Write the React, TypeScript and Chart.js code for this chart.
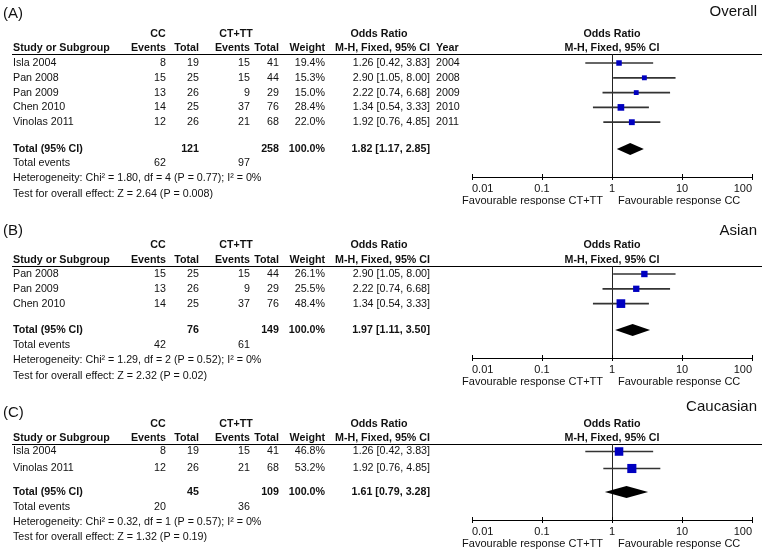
import React, { useEffect, useRef } from "react";
import { Chart, registerables } from "chart.js";

Chart.register(...registerables);

// ---------- data ----------
const TICK_VALUES = [0.01, 0.1, 1, 10, 100];
const TICK_LABELS = ["0.01", "0.1", "1", "10", "100"];
const LEFT_FAVOUR = "Favourable response CT+TT";
const RIGHT_FAVOUR = "Favourable response CC";

// (A) Overall
const A_STUDIES = ["Isla 2004", "Pan 2008", "Pan 2009", "Chen 2010", "Vinolas 2011"];
const A_CC_EVENTS = [8, 15, 13, 14, 12];
const A_CC_TOTAL = [19, 25, 26, 25, 26];
const A_CT_EVENTS = [15, 15, 9, 37, 21];
const A_CT_TOTAL = [41, 44, 29, 76, 68];
const A_WEIGHT = [19.4, 15.3, 15.0, 28.4, 22.0];
const A_OR = [1.26, 2.9, 2.22, 1.34, 1.92];
const A_LO = [0.42, 1.05, 0.74, 0.54, 0.76];
const A_HI = [3.83, 8.0, 6.68, 3.33, 4.85];
const A_YEAR = ["2004", "2008", "2009", "2010", "2011"];
const A_TOTALS = [121, 258];
const A_TOTAL_EVENTS = [62, 97];
const A_POOLED = [1.82, 1.17, 2.85];
const A_HET = "Heterogeneity: Chi² = 1.80, df = 4 (P = 0.77); I² = 0%";
const A_TEST = "Test for overall effect: Z = 2.64 (P = 0.008)";

// (B) Asian
const B_STUDIES = ["Pan 2008", "Pan 2009", "Chen 2010"];
const B_CC_EVENTS = [15, 13, 14];
const B_CC_TOTAL = [25, 26, 25];
const B_CT_EVENTS = [15, 9, 37];
const B_CT_TOTAL = [44, 29, 76];
const B_WEIGHT = [26.1, 25.5, 48.4];
const B_OR = [2.9, 2.22, 1.34];
const B_LO = [1.05, 0.74, 0.54];
const B_HI = [8.0, 6.68, 3.33];
const B_TOTALS = [76, 149];
const B_TOTAL_EVENTS = [42, 61];
const B_POOLED = [1.97, 1.11, 3.5];
const B_HET = "Heterogeneity: Chi² = 1.29, df = 2 (P = 0.52); I² = 0%";
const B_TEST = "Test for overall effect: Z = 2.32 (P = 0.02)";

// (C) Caucasian
const C_STUDIES = ["Isla 2004", "Vinolas 2011"];
const C_CC_EVENTS = [8, 12];
const C_CC_TOTAL = [19, 26];
const C_CT_EVENTS = [15, 21];
const C_CT_TOTAL = [41, 68];
const C_WEIGHT = [46.8, 53.2];
const C_OR = [1.26, 1.92];
const C_LO = [0.42, 0.76];
const C_HI = [3.83, 4.85];
const C_TOTALS = [45, 109];
const C_TOTAL_EVENTS = [20, 36];
const C_POOLED = [1.61, 0.79, 3.28];
const C_HET = "Heterogeneity: Chi² = 0.32, df = 1 (P = 0.57); I² = 0%";
const C_TEST = "Test for overall effect: Z = 1.32 (P = 0.19)";

// ---------- layout / style ----------
const FONT = '"Liberation Sans", Arial, Helvetica, sans-serif';
const BLUE = "#0000c0";
const INK = "#111";
const AXIS_H = 20;
const SQ_K = 1.25;
const FS = 10.7;

const COL = {
  name: 13,
  ccEv: 166,
  ccTot: 199,
  ctEv: 250,
  ctTot: 279,
  weight: 325,
  ci: 430,
  year: 436,
  ccHead: 158,
  ctHead: 236,
  orHead: 379,
};

const PANELS = [
  {
    key: "A", label: "(A)", title: "Overall",
    studies: A_STUDIES, ccEv: A_CC_EVENTS, ccTot: A_CC_TOTAL, ctEv: A_CT_EVENTS, ctTot: A_CT_TOTAL,
    weight: A_WEIGHT, or: A_OR, lo: A_LO, hi: A_HI, year: A_YEAR,
    totals: A_TOTALS, totalEvents: A_TOTAL_EVENTS, pooled: A_POOLED, het: A_HET, test: A_TEST,
    layout: { top: 0, height: 205, labelY: 14, titleY: 12, groupY: 34, headY: 48.5, line: 54, row0: 63, rowH: 14.8, total: 149, events: 163.5, hetY: 178.5, testY: 194, axis: 177 },
  },
  {
    key: "B", label: "(B)", title: "Asian",
    studies: B_STUDIES, ccEv: B_CC_EVENTS, ccTot: B_CC_TOTAL, ctEv: B_CT_EVENTS, ctTot: B_CT_TOTAL,
    weight: B_WEIGHT, or: B_OR, lo: B_LO, hi: B_HI, year: null,
    totals: B_TOTALS, totalEvents: B_TOTAL_EVENTS, pooled: B_POOLED, het: B_HET, test: B_TEST,
    layout: { top: 205, height: 185, labelY: 231, titleY: 231, groupY: 245, headY: 260, line: 266, row0: 274, rowH: 14.8, total: 330, events: 345, hetY: 360, testY: 376, axis: 358 },
  },
  {
    key: "C", label: "(C)", title: "Caucasian",
    studies: C_STUDIES, ccEv: C_CC_EVENTS, ccTot: C_CC_TOTAL, ctEv: C_CT_EVENTS, ctTot: C_CT_TOTAL,
    weight: C_WEIGHT, or: C_OR, lo: C_LO, hi: C_HI, year: null,
    totals: C_TOTALS, totalEvents: C_TOTAL_EVENTS, pooled: C_POOLED, het: C_HET, test: C_TEST,
    layout: { top: 390, height: 163, labelY: 413, titleY: 407, groupY: 424, headY: 438, line: 444, row0: 451.5, rowH: 17, total: 492, events: 507, hetY: 522, testY: 537, axis: 520 },
  },
];

const fmtCI = (o: number, l: number, h: number) =>
  `${o.toFixed(2)} [${l.toFixed(2)}, ${h.toFixed(2)}]`;

function txt(ctx: CanvasRenderingContext2D, s: string, x: number, y: number, align: CanvasTextAlign, bold = false, size = FS) {
  ctx.font = `${bold ? "bold " : ""}${size}px ${FONT}`;
  ctx.textAlign = align;
  ctx.textBaseline = "middle";
  ctx.fillStyle = INK;
  ctx.fillText(s, x, y);
}

function Panel({ p }: { p: any }) {
  const ref = useRef<HTMLCanvasElement>(null);
  useEffect(() => {
    const L = p.layout;
    const first = L.row0 - L.line;
    const yMin = -first / L.rowH;
    const yMax = (L.axis - L.line - first) / L.rowH;
    const totalIdx = (L.total - L.row0) / L.rowH;
    const ciData = p.or.map((_: number, i: number) => ({ x: [p.lo[i], p.hi[i]], y: i }));
    const ptData = p.or.map((v: number, i: number) => ({ x: v, y: i }));
    const radii = p.weight.map((w: number) => (SQ_K * Math.sqrt(w)) / Math.SQRT2);
    const T = (pageY: number) => pageY - L.top;

    const forest = {
      id: "forest" + p.key,
      beforeDatasetsDraw(chart: any) {
        const { ctx, chartArea: ca, scales } = chart;
        const x = scales.x, y = scales.y;
        ctx.save();
        ctx.strokeStyle = "#000";
        ctx.lineWidth = 1;
        // header rule
        const hy = Math.round(ca.top) + 0.5;
        ctx.beginPath();
        ctx.moveTo(12, hy);
        ctx.lineTo(762, hy);
        ctx.stroke();
        // line of no effect
        const x1 = Math.round(x.getPixelForValue(1)) + 0.5;
        ctx.strokeStyle = "#222";
        ctx.beginPath();
        ctx.moveTo(x1, ca.top);
        ctx.lineTo(x1, ca.bottom);
        ctx.stroke();
        // upward halves of tick marks
        ctx.strokeStyle = "#000";
        ctx.beginPath();
        TICK_VALUES.forEach((v) => {
          const px = Math.round(x.getPixelForValue(v)) + 0.5;
          ctx.moveTo(px, ca.bottom - 3);
          ctx.lineTo(px, ca.bottom);
        });
        ctx.stroke();
        // pooled diamond
        const [po, pl, ph] = p.pooled;
        const cy = y.getPixelForValue(totalIdx);
        ctx.fillStyle = "#000";
        ctx.beginPath();
        ctx.moveTo(x.getPixelForValue(pl), cy);
        ctx.lineTo(x.getPixelForValue(po), cy - 6);
        ctx.lineTo(x.getPixelForValue(ph), cy);
        ctx.lineTo(x.getPixelForValue(po), cy + 6);
        ctx.closePath();
        ctx.fill();
        ctx.restore();
      },
      afterDraw(chart: any) {
        const { ctx, chartArea: ca, scales } = chart;
        const x = scales.x, y = scales.y;
        const x1 = x.getPixelForValue(1);
        ctx.save();
        // titles
        txt(ctx, p.label, 3, T(L.labelY), "left", false, 15);
        txt(ctx, p.title, 757, T(L.titleY), "right", false, 15);
        // headers
        txt(ctx, "CC", COL.ccHead, T(L.groupY), "center", true);
        txt(ctx, "CT+TT", COL.ctHead, T(L.groupY), "center", true);
        txt(ctx, "Odds Ratio", COL.orHead, T(L.groupY), "center", true);
        txt(ctx, "Odds Ratio", x1, T(L.groupY), "center", true);
        txt(ctx, "Study or Subgroup", COL.name, T(L.headY), "left", true);
        txt(ctx, "Events", COL.ccEv, T(L.headY), "right", true);
        txt(ctx, "Total", COL.ccTot, T(L.headY), "right", true);
        txt(ctx, "Events", COL.ctEv, T(L.headY), "right", true);
        txt(ctx, "Total", COL.ctTot, T(L.headY), "right", true);
        txt(ctx, "Weight", COL.weight, T(L.headY), "right", true);
        txt(ctx, "M-H, Fixed, 95% CI", COL.ci, T(L.headY), "right", true);
        txt(ctx, "M-H, Fixed, 95% CI", x1, T(L.headY), "center", true);
        if (p.year) txt(ctx, "Year", COL.year, T(L.headY), "left", true);
        // study rows
        p.studies.forEach((s: string, i: number) => {
          const ry = y.getPixelForValue(i);
          txt(ctx, s, COL.name, ry, "left");
          txt(ctx, String(p.ccEv[i]), COL.ccEv, ry, "right");
          txt(ctx, String(p.ccTot[i]), COL.ccTot, ry, "right");
          txt(ctx, String(p.ctEv[i]), COL.ctEv, ry, "right");
          txt(ctx, String(p.ctTot[i]), COL.ctTot, ry, "right");
          txt(ctx, p.weight[i].toFixed(1) + "%", COL.weight, ry, "right");
          txt(ctx, fmtCI(p.or[i], p.lo[i], p.hi[i]), COL.ci, ry, "right");
          if (p.year) txt(ctx, p.year[i], COL.year, ry, "left");
        });
        // total rows
        const ty = y.getPixelForValue(totalIdx);
        txt(ctx, "Total (95% CI)", COL.name, ty, "left", true);
        txt(ctx, String(p.totals[0]), COL.ccTot, ty, "right", true);
        txt(ctx, String(p.totals[1]), COL.ctTot, ty, "right", true);
        txt(ctx, "100.0%", COL.weight, ty, "right", true);
        txt(ctx, fmtCI(p.pooled[0], p.pooled[1], p.pooled[2]), COL.ci, ty, "right", true);
        txt(ctx, "Total events", COL.name, T(L.events), "left");
        txt(ctx, String(p.totalEvents[0]), COL.ccEv, T(L.events), "right");
        txt(ctx, String(p.totalEvents[1]), COL.ctEv, T(L.events), "right");
        txt(ctx, p.het, COL.name, T(L.hetY), "left");
        txt(ctx, p.test, COL.name, T(L.testY), "left");
        // favour labels
        txt(ctx, LEFT_FAVOUR, x1 - 9, ca.bottom + 23.5, "right", false, 11);
        txt(ctx, RIGHT_FAVOUR, x1 + 6, ca.bottom + 23.5, "left", false, 11);
        ctx.restore();
      },
    };

    const chart = new Chart(ref.current as HTMLCanvasElement, {
      type: "bar",
      data: {
        datasets: [
          {
            type: "scatter",
            data: ptData,
            pointStyle: "rect",
            pointRadius: radii,
            pointHoverRadius: radii,
            pointBackgroundColor: BLUE,
            pointBorderColor: BLUE,
            pointBorderWidth: 0,
            backgroundColor: BLUE,
            borderColor: BLUE,
            order: 0,
          } as any,
          {
            type: "bar",
            data: ciData,
            backgroundColor: "#333",
            borderWidth: 0,
            barThickness: 1,
            order: 1,
          } as any,
        ],
      },
      options: {
        animation: false,
        responsive: false,
        maintainAspectRatio: false,
        indexAxis: "y",
        events: [],
        layout: {
          padding: {
            left: 472,
            right: 13,
            top: L.line - L.top,
            bottom: L.height - (L.axis - L.top) - AXIS_H,
          },
        },
        plugins: { legend: { display: false }, tooltip: { enabled: false } },
        scales: {
          x: {
            type: "logarithmic",
            position: "bottom",
            min: 0.01,
            max: 100,
            afterBuildTicks: (s: any) => {
              s.ticks = TICK_VALUES.map((v) => ({ value: v }));
            },
            afterFit: (s: any) => {
              s.height = AXIS_H;
            },
            ticks: {
              callback: (_v: any, i: number) => TICK_LABELS[i],
              font: { size: 11, family: FONT },
              color: INK,
              padding: 2,
              align: "inner",
              maxRotation: 0,
              minRotation: 0,
              autoSkip: false,
            },
            grid: { drawOnChartArea: false, drawTicks: true, tickLength: 3, color: "#000" },
            border: { display: true, color: "#000", width: 1 },
          },
          y: {
            type: "linear",
            reverse: true,
            offset: false,
            min: yMin,
            max: yMax,
            display: false,
            grid: { offset: false },
          },
        },
      } as any,
      plugins: [forest],
    });
    return () => chart.destroy();
  }, []);

  return (
    <canvas
      ref={ref}
      width={765}
      height={p.layout.height}
      style={{ position: "absolute", left: 0, top: p.layout.top, width: 765, height: p.layout.height }}
    />
  );
}

export default function App() {
  return (
    <div style={{ position: "absolute", left: 0, top: 0, width: 765, height: 553, background: "#fff" }}>
      {PANELS.map((p) => (
        <Panel key={p.key} p={p} />
      ))}
    </div>
  );
}
